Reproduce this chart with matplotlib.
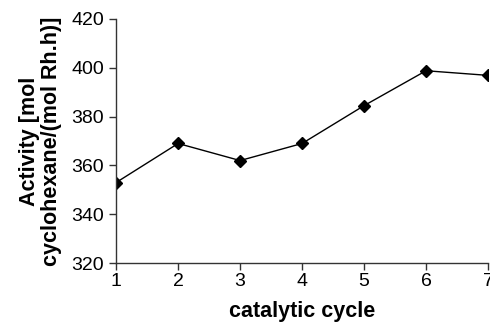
import matplotlib.pyplot as plt

plt.rcParams['font.family'] = ['Liberation Sans', 'DejaVu Sans']

# data
cycles = [1, 2, 3, 4, 5, 6, 7]
activity = [353, 369, 362, 369, 384.5, 398.8, 396.9]
yticks = [320, 340, 360, 380, 400, 420]

fig = plt.figure(figsize=(4.9, 3.22), dpi=100)
ax = fig.add_axes([0.237, 0.183, 0.759, 0.758])

ax.plot(cycles, activity, color='black', linewidth=1, marker='D', markersize=6)

ax.set_xlim(1, 7)
ax.set_ylim(320, 420)
ax.set_xticks(cycles)
ax.set_yticks(yticks)
ax.tick_params(axis='both', labelsize=14, direction='out', length=5, width=1, color='#333333')
ax.tick_params(axis='x', pad=2)

for side in ['top', 'right']:
    ax.spines[side].set_visible(False)
for side in ['left', 'bottom']:
    ax.spines[side].set_color('#333333')
    ax.spines[side].set_linewidth(1)

ax.set_xlabel("catalytic cycle", fontsize=15.5, fontweight='bold', labelpad=8)
ax.set_ylabel("Activity [mol\ncyclohexane/(mol Rh.h)]", fontsize=15.5, fontweight='bold',
              labelpad=7, linespacing=1.05)

fig.savefig("out.png", dpi=100)
